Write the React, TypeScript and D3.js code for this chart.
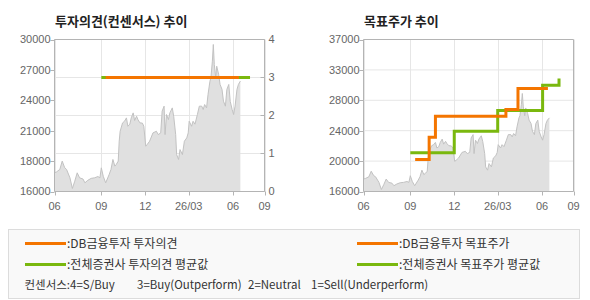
import React from "react";
import * as d3 from "d3";

// ---- data ----
const priceDates = [
  "2025-05-27","2025-05-31","2025-06-07","2025-06-12","2025-06-17","2025-06-21","2025-06-28","2025-07-03",
  "2025-07-08","2025-07-13","2025-07-18","2025-07-25","2025-07-29","2025-08-04","2025-08-11","2025-08-18",
  "2025-08-25","2025-08-29","2025-09-01","2025-09-05","2025-09-10","2025-09-17","2025-09-21","2025-09-25",
  "2025-09-29","2025-10-02","2025-10-06","2025-10-08","2025-10-10","2025-10-15","2025-10-19","2025-10-23",
  "2025-10-26","2025-10-30","2025-11-02","2025-11-06","2025-11-09","2025-11-13","2025-11-16","2025-11-20",
  "2025-11-25","2025-11-28","2025-12-02","2025-12-05","2025-12-10","2025-12-17","2025-12-24","2025-12-28",
  "2026-01-02","2026-01-05","2026-01-09","2026-01-11","2026-01-14","2026-01-18","2026-01-21","2026-01-26",
  "2026-01-29","2026-02-02","2026-02-04","2026-02-08","2026-02-11","2026-02-16","2026-02-20","2026-02-25",
  "2026-02-28","2026-03-02","2026-03-07","2026-03-10","2026-03-14","2026-03-19","2026-03-23","2026-03-28",
  "2026-03-31","2026-04-03","2026-04-07","2026-04-10","2026-04-14","2026-04-16","2026-04-19","2026-04-21",
  "2026-04-23","2026-04-26","2026-04-28","2026-05-02","2026-05-05","2026-05-09","2026-05-12","2026-05-16",
  "2026-05-19","2026-05-23","2026-05-26","2026-05-30","2026-06-02","2026-06-05","2026-06-09","2026-06-12",
  "2026-06-16",
];
const priceValues = [
  17720,17800,18030,18800,18200,18030,17260,16280,
  16950,17720,17260,17150,16800,17030,17210,17260,
  17380,17260,18180,17400,16800,17540,18030,18950,
  18340,18490,18800,20630,21550,22320,22470,22780,
  22010,22200,22780,23240,22540,22930,22600,22320,
  22300,22010,20170,20330,20630,21400,21550,21240,
  21400,23400,23860,21240,23090,22630,23240,23700,
  22900,21240,19400,18950,19860,19400,20630,20940,
  21400,22470,22010,22470,22200,23090,23860,23860,
  23550,24010,23700,24930,26160,26470,28000,29540,
  27700,26470,27540,26780,25860,25400,24320,23860,
  25400,25860,24300,23550,23090,23860,25400,25860,
  26170,
];

const dbOpinionDates = ["2025-09-10", "2026-06-13"];
const dbOpinionValues = [3, 3];
const consOpinionDates = ["2025-09-01", "2026-07-06"];
const consOpinionValues = [3, 3];

const dbTargetDates = ["2025-09-11","2025-10-10","2025-10-23","2026-03-18","2026-04-12","2026-06-13"];
const dbTargetValues = [20420, 23500, 26400, 27330, 30230, 30230];
const consTargetDates = ["2025-09-01","2025-12-01","2026-03-01","2026-06-02","2026-07-06"];
const consTargetValues = [21340, 24330, 27190, 30690, 31610];

const xDomain = ["2025-05-27", "2026-08-05"];
const xTickDates = ["2025-05-27","2025-09-01","2025-12-01","2026-03-01","2026-06-01","2026-08-05"];
const xTickLabels = ["06", "09", "12", "26/03", "06", "09"];

const leftPriceDomain = [16000, 30000];
const leftPriceTicks = [16000, 18800, 21600, 24400, 27200, 30000];
const leftPriceLabels = ["16000", "18000", "21000", "24000", "27000", "30000"];
const opinionDomain = [0, 4];
const opinionTicks = [0, 1, 2, 3, 4];

const rightPriceDomain = [16000, 37000];
const rightPriceTicks = [16000, 20200, 24400, 28600, 32800, 37000];
const rightPriceLabels = ["16000", "20000", "24000", "28000", "33000", "37000"];

const consensusNotes = ["컨센서스:4=S/Buy", "3=Buy(Outperform)", "2=Neutral", "1=Sell(Underperform)"];

const ORANGE = "#F47500";
const GREEN = "#7AB80E";
const GRID = "#e6e6e6";
const AXIS = "#b4b4b4";
const TICKFONT = "'Liberation Sans', Arial, sans-serif";
const KFONT = "'Noto Sans CJK KR', sans-serif";

const parse = d3.timeParse("%Y-%m-%d");
const price = priceDates.map((d, i) => ({ date: parse(d)!, v: priceValues[i] }));
const series = (ds: string[], vs: number[]) => ds.map((d, i) => ({ date: parse(d)!, v: vs[i] }));

type Pt = { date: Date; v: number };

function Panel({
  x0, x1, title, yDomain, yTicks, yLabels, hGridTicks, hGridScale, right, lines,
}: {
  x0: number; x1: number; title: string; yDomain: number[]; yTicks: number[]; yLabels: string[];
  hGridTicks: number[]; hGridScale: d3.ScaleLinear<number, number>; right?: boolean;
  lines: { data: Pt[]; color: string; yScale: "price" | "opinion" }[];
}) {
  const y0 = 39.5, y1 = 191.5;
  const x = d3.scaleTime().domain(xDomain.map((d) => parse(d)!)).range([x0, x1]);
  const y = d3.scaleLinear().domain(yDomain).range([y1, y0]);
  const area = d3.area<Pt>().x((d) => x(d.date)).y0(y(yDomain[0])).y1((d) => y(d.v));
  const top = d3.line<Pt>().x((d) => x(d.date)).y((d) => y(d.v));
  const tickDates = xTickDates.map((d) => parse(d)!);
  return (
    <g>
      <text x={x0 + 0.5} y={26} fontFamily={KFONT} fontWeight="bold" fontSize={13} fill="#222">{title}</text>
      {tickDates.map((d, i) => (
        <line key={"vg" + i} x1={Math.round(x(d)) + 0.5} x2={Math.round(x(d)) + 0.5} y1={y0} y2={y1} stroke={GRID} />
      ))}
      {hGridTicks.map((t, i) => (
        <line key={"hg" + i} x1={x0} x2={x1} y1={hGridScale(t)} y2={hGridScale(t)} stroke={GRID} />
      ))}
      <path d={area(price)!} fill="#e0e0e0" />
      <path d={top(price)!} fill="none" stroke="#c2c2c2" strokeWidth={1} />
      {lines.map((l, i) => {
        const ys = l.yScale === "price" ? y : hGridScale;
        const gen = d3.line<Pt>().x((d) => x(d.date)).y((d) => ys(d.v)).curve(d3.curveStepAfter);
        return <path key={"l" + i} d={gen(l.data)!} fill="none" stroke={l.color} strokeWidth={3} />;
      })}
      <line x1={x0} x2={x0} y1={y0} y2={y1} stroke={AXIS} />
      <line x1={x0} x2={x1} y1={y1} y2={y1} stroke={AXIS} />
      <line x1={x0} x2={x1} y1={y0} y2={y0} stroke={AXIS} />
      <line x1={x1} x2={x1} y1={y0} y2={y1} stroke={AXIS} />
      {yTicks.map((t, i) => (
        <g key={"yt" + i}>
          <line x1={x0 - 4} x2={x0} y1={Math.round(y(t)) + 0.5} y2={Math.round(y(t)) + 0.5} stroke={AXIS} />
          <text x={x0 - 4} y={y(t)} dy="0.35em" textAnchor="end" fontFamily={TICKFONT} fontSize={11} fill="#666">{yLabels[i]}</text>
        </g>
      ))}
      {right && opinionTicks.map((t, i) => (
        <g key={"rt" + i}>
          <line x1={x1 - 4} x2={x1} y1={hGridScale(t)} y2={hGridScale(t)} stroke={AXIS} />
          <text x={x1 + 4} y={hGridScale(t)} dy="0.35em" textAnchor="start" fontFamily={TICKFONT} fontSize={11} fill="#666">{t}</text>
        </g>
      ))}
      {tickDates.map((d, i) => (
        <g key={"xt" + i}>
          <line x1={Math.round(x(d)) + 0.5} x2={Math.round(x(d)) + 0.5} y1={y1} y2={y1 + 4} stroke={AXIS} />
          <text x={x(d)} y={210} textAnchor="middle" fontFamily={TICKFONT} fontSize={11} fill="#666">{xTickLabels[i]}</text>
        </g>
      ))}
    </g>
  );
}

export default function App() {
  const opinionScale = d3.scaleLinear().domain(opinionDomain).range([191.5, 39.5]);
  const rightScale = d3.scaleLinear().domain(rightPriceDomain).range([191.5, 39.5]);
  const legendItems = [
    { x: 25, y: 243.5, color: ORANGE, text: ":DB금융투자 투자의견" },
    { x: 25, y: 264.5, color: GREEN, text: ":전체증권사 투자의견 평균값" },
    { x: 357, y: 243.5, color: ORANGE, text: ":DB금융투자 목표주가" },
    { x: 357, y: 264.5, color: GREEN, text: ":전체증권사 목표주가 평균값" },
  ];
  const noteX = [24.5, 137, 248, 311];
  return (
    <svg width={590} height={300} style={{ position: "absolute", left: 0, top: 0, background: "#fff" }}>
      <Panel
        x0={54.5} x1={264.5} title="투자의견(컨센서스) 추이"
        yDomain={leftPriceDomain} yTicks={leftPriceTicks} yLabels={leftPriceLabels}
        hGridTicks={opinionTicks} hGridScale={opinionScale} right
        lines={[
          { data: series(consOpinionDates, consOpinionValues), color: GREEN, yScale: "opinion" },
          { data: series(dbOpinionDates, dbOpinionValues), color: ORANGE, yScale: "opinion" },
        ]}
      />
      <Panel
        x0={363.5} x1={573.5} title="목표주가 추이"
        yDomain={rightPriceDomain} yTicks={rightPriceTicks} yLabels={rightPriceLabels}
        hGridTicks={rightPriceTicks} hGridScale={rightScale}
        lines={[
          { data: series(consTargetDates, consTargetValues), color: GREEN, yScale: "price" },
          { data: series(dbTargetDates, dbTargetValues), color: ORANGE, yScale: "price" },
        ]}
      />
      <rect x={8.5} y={229.5} width={571} height={69} fill="#f9f9f9" stroke="#dcdcdc" />
      {legendItems.map((it, i) => (
        <g key={"lg" + i}>
          <line x1={it.x} x2={it.x + 41} y1={it.y} y2={it.y} stroke={it.color} strokeWidth={3} />
          <text x={it.x + 42} y={it.y} dy="0.35em" fontFamily={KFONT} fontSize={12} fill="#333">{it.text}</text>
        </g>
      ))}
      {consensusNotes.map((t, i) => (
        <text key={"n" + i} x={noteX[i]} y={284.5} dy="0.35em" fontFamily={KFONT} fontSize={11.5} fill="#333">{t}</text>
      ))}
    </svg>
  );
}
